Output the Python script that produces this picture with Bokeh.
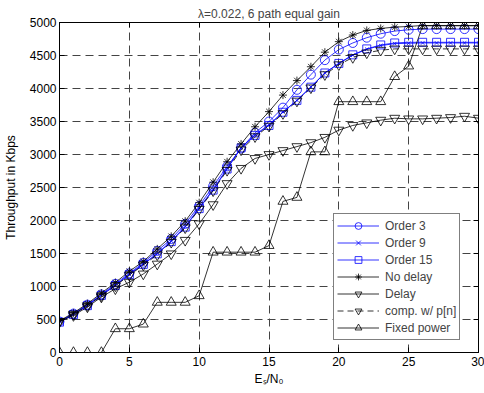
from bokeh.plotting import figure
from bokeh.models import Range1d, FixedTicker, LinearAxis, Legend, LegendItem
from bokeh.embed import file_html
from bokeh.resources import INLINE

snr = list(range(31))
no_delay = [480, 600, 740, 900, 1060, 1230, 1380, 1570, 1760, 1990, 2270, 2580, 2890, 3160, 3420, 3650,
            3900, 4120, 4330, 4550, 4710, 4810, 4880, 4910, 4930, 4940, 4955, 4955, 4955, 4955, 4955]
order3 = [470, 590, 725, 880, 1040, 1200, 1360, 1540, 1720, 1950, 2220, 2520, 2820, 3090, 3330, 3500,
          3710, 3980, 4210, 4430, 4590, 4690, 4770, 4830, 4870, 4890, 4900, 4900, 4900, 4900, 4900]
order9 = [465, 580, 715, 870, 1020, 1185, 1340, 1500, 1690, 1910, 2190, 2470, 2790, 3100, 3300, 3450,
          3645, 3820, 4025, 4235, 4380, 4505, 4595, 4650, 4680, 4685, 4690, 4690, 4690, 4690, 4690]
order15 = [460, 575, 710, 865, 1015, 1180, 1335, 1495, 1680, 1900, 2180, 2460, 2780, 3100, 3290, 3440,
           3640, 3820, 4020, 4235, 4380, 4510, 4600, 4660, 4690, 4700, 4700, 4700, 4700, 4700, 4700]
comp = [470, 580, 710, 860, 1010, 1170, 1325, 1480, 1670, 1890, 2170, 2450, 2760, 3070, 3270, 3430,
        3620, 3810, 4010, 4210, 4360, 4470, 4540, 4580, 4600, 4600, 4600, 4600, 4600, 4600, 4600]
delay = [470, 560, 690, 840, 965, 1065, 1190, 1340, 1495, 1700, 1950, 2240, 2560, 2790, 2940, 3000,
         3060, 3120, 3180, 3260, 3370, 3440, 3480, 3520, 3550, 3540, 3540, 3550, 3560, 3580, 3550]
fixed = [0, 0, 0, 0, 360, 360, 430, 760, 760, 760, 860, 1520, 1520, 1520, 1520, 1620,
         2290, 2350, 3040, 3040, 3800, 3800, 3800, 3800, 4180, 4340, 4950, 4950, 4950, 4950, 4950]

x_ticks = [0, 5, 10, 15, 20, 25, 30]
y_ticks = [0, 500, 1000, 1500, 2000, 2500, 3000, 3500, 4000, 4500, 5000]

FONT = "Liberation Sans"

p = figure(width=484, height=393, x_range=Range1d(0, 30), y_range=Range1d(0, 5000),
           output_backend="svg", toolbar_location=None,
           min_border_left=58, min_border_right=6, min_border_top=22, min_border_bottom=41,
           title="λ=0.022, 6 path equal gain")
p.title.align = "center"
p.title.text_font = FONT
p.title.text_font_size = "12px"
p.title.text_font_style = "normal"
p.title.standoff = 3
p.title.offset = 0
p.outline_line_color = "black"
p.outline_line_width = 1
p.background_fill_color = "white"

for ax in (p.xaxis[0], p.yaxis[0]):
    ax.major_tick_in = 5
    ax.major_tick_out = 0
    ax.minor_tick_line_color = None
    ax.major_label_text_font = FONT
    ax.major_label_text_font_size = "12px"
    ax.major_label_text_color = "black"
    ax.axis_line_color = "black"
    ax.major_tick_line_color = "black"
    ax.axis_label_text_font = FONT
    ax.axis_label_text_font_size = "12px"
    ax.axis_label_text_font_style = "normal"
    ax.axis_label_text_color = "black"
p.xaxis[0].ticker = FixedTicker(ticks=x_ticks)
p.yaxis[0].ticker = FixedTicker(ticks=y_ticks)
p.xaxis[0].major_label_standoff = 4
p.xaxis[0].axis_label = "Eₛ/N₀"
p.xaxis[0].axis_label_standoff = 3
p.yaxis[0].major_label_standoff = 3
p.yaxis[0].axis_label = "Throughput in Kbps"
p.yaxis[0].axis_label_standoff = 9

top = LinearAxis(ticker=FixedTicker(ticks=x_ticks), major_label_text_font_size="1px",
                 major_label_text_color=None, major_tick_in=5, major_tick_out=0,
                 minor_tick_line_color=None, major_label_standoff=0, axis_line_color="black")
right = LinearAxis(ticker=FixedTicker(ticks=y_ticks), major_label_text_font_size="1px",
                   major_label_text_color=None, major_tick_in=5, major_tick_out=0,
                   minor_tick_line_color=None, major_label_standoff=0, axis_line_color="black")
p.add_layout(top, "above")
p.add_layout(right, "right")

for g in (p.xgrid[0], p.ygrid[0]):
    g.grid_line_color = "#444444"
    g.grid_line_dash = "8 5"
    g.grid_line_width = 1
p.xgrid[0].ticker = FixedTicker(ticks=x_ticks)
p.ygrid[0].ticker = FixedTicker(ticks=y_ticks)

BLUE = "#0000ff"
LW = 0.8


def series(y, color, marker, size, dash="solid"):
    l = p.line(snr, y, line_color=color, line_width=LW, line_dash=dash)
    s = p.scatter(snr, y, marker=marker, size=size, line_color=color, fill_color=None, line_width=LW)
    return [l, s]


r_o3 = series(order3, BLUE, "circle", 9)
r_o9 = series(order9, BLUE, "x", 5)
r_o15 = series(order15, BLUE, "square", 8)
r_nd = series(no_delay, "black", "asterisk", 8)
r_d = series(delay, "black", "inverted_triangle", 10)
r_c = series(comp, "black", "inverted_triangle", 10, dash="6 4")
r_f = series(fixed, "black", "triangle", 10)

legend = Legend(items=[
    LegendItem(label="Order 3", renderers=r_o3),
    LegendItem(label="Order 9", renderers=r_o9),
    LegendItem(label="Order 15", renderers=r_o15),
    LegendItem(label="No delay", renderers=r_nd),
    LegendItem(label="Delay", renderers=r_d),
    LegendItem(label="comp. w/ p[n]", renderers=r_c),
    LegendItem(label="Fixed power", renderers=r_f),
], location=(274, 12))
legend.label_text_font = FONT
legend.label_text_font_size = "12px"
legend.glyph_width = 42
legend.glyph_height = 17
legend.label_height = 17
legend.spacing = 0
legend.padding = 3
legend.margin = 0
legend.label_standoff = 6
legend.border_line_color = "black"
legend.border_line_width = 1
legend.background_fill_alpha = 1
p.add_layout(legend, "center")

open("out.html", "w").write(file_html(p, INLINE))
